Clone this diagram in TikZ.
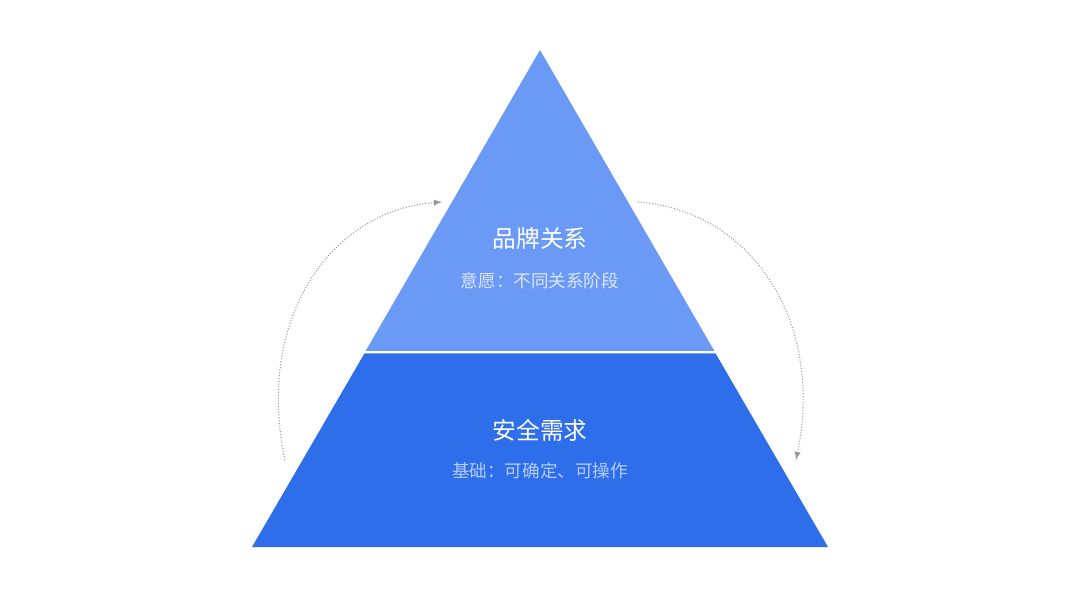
\documentclass[tikz,border=0pt]{standalone}
\usepackage{fontspec}
\newfontfamily\cjk{Noto Sans CJK SC}
\definecolor{topc}{HTML}{6A9AF6}
\definecolor{botc}{HTML}{2F6EEB}
\definecolor{subtop}{HTML}{DCE7FC}
\definecolor{subbot}{HTML}{B4CDFA}
\begin{document}
\begin{tikzpicture}[x=0.02cm,y=-0.02cm,
  title/.style={text=white,font=\cjk\fontsize{13.5}{15}\selectfont},
  sub/.style={font=\cjk\fontsize{10}{12}\selectfont},
  cyc/.style={draw=gray!80,densely dotted,line width=0.6pt,-latex}]
\useasboundingbox (0,0) rectangle (1080,608);
\fill[topc] (540,50) -- (714.4,351) -- (365.6,351) -- cycle;
\fill[botc] (364.4,353.5) -- (715.6,353.5) -- (828,547) -- (252,547) -- cycle;
\node[title] (t1) at (540,238) {品牌关系};
\node[sub,text=subtop] (s1) at (540,281) {意愿：不同关系阶段};
\node[title] (t2) at (540,430) {安全需求};
\node[sub,text=subbot] (s2) at (540,471) {基础：可确定、可操作};
\coordinate (a1) at (285,460);
\coordinate (a2) at (442,202);
\coordinate (b1) at (638,202);
\coordinate (b2) at (796,460);
\draw[cyc] (a1) .. controls (255,320) and (330,210) .. (a2);
\draw[cyc] (b1) .. controls (750,210) and (825,320) .. (b2);
\end{tikzpicture}
\end{document}
